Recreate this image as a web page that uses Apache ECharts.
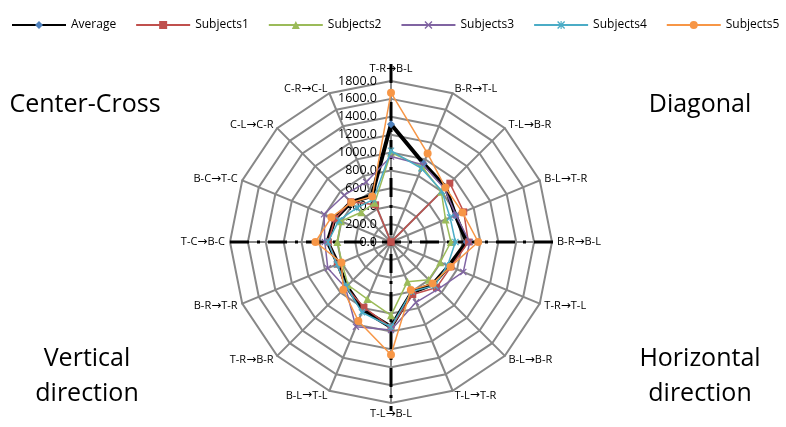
<!DOCTYPE html>
<html><head><meta charset="utf-8">
<script src="https://cdn.jsdelivr.net/npm/echarts@6/dist/echarts.min.js"></script>
<style>html,body{margin:0;padding:0;background:#fff}#c{width:786px;height:427px}</style>
</head><body><div id="c"></div>
<script>
// Categories in clockwise order starting from the top
const categories = ['T-R→B-L','B-R→T-L','T-L→B-R','B-L→T-R','B-R→B-L','T-R→T-L','B-L→B-R','T-L→T-R',
                    'T-L→B-L','B-L→T-L','T-R→B-R','B-R→T-R','T-C→B-C','B-C→T-C','C-L→C-R','C-R→C-L'];
const seriesNames = ['Average','Subjects1','Subjects2','Subjects3','Subjects4','Subjects5'];
const average   = [1316, 950, 865, 780, 846, 700, 665, 610, 950, 820, 700, 640, 710, 680, 630, 560];
const subjects1 = [   0,   0, 930, 880, 865, 725, 720, 636, 955, 790, 715, 650, 700, 680, 635, 450];
const subjects2 = [1000, 910, 795, 660, 670, 595, 596, 480, 820, 690, 680, 595, 600, 605, 470, 475];
const subjects3 = [ 955, 935, 845, 785, 880, 875, 745, 730, 985,1025, 720, 765, 740, 810, 740, 725];
const subjects4 = [1020, 890, 805, 715, 720, 685, 690, 600, 950, 850, 705, 655, 705, 630, 540, 515];
const subjects5 = [1670,1070, 860, 865, 975, 720, 658, 580,1260, 955, 755, 600, 845, 722, 625, 550];
const axisMax = 1800;
const axisSplits = 9;
const quadrantLabels = ['Center-Cross', 'Diagonal', 'Vertical\ndirection', 'Horizontal\ndirection'];

const CX = 391, CY = 242, R = 161;
const FONT = 'Open Sans';

// ECharts radar places indicators counter-clockwise; reorder for a clockwise layout
const order = [0].concat(categories.map((_, i) => i).slice(1).reverse());
const reorder = arr => order.map(i => arr[i]);

const xPath = 'path://M0,1.2L1.2,0L5,3.8L8.8,0L10,1.2L6.2,5L10,8.8L8.8,10L5,6.2L1.2,10L0,8.8L3.8,5Z';
const starPath = 'path://M0,1.2L1.2,0L5,3.8L8.8,0L10,1.2L6.2,5L10,8.8L8.8,10L5,6.2L1.2,10L0,8.8L3.8,5Z M4.3,0H5.7V10H4.3Z';

const styles = [
  {color:'#4F81BD', line:'#000000', width:4,   symbol:'diamond',  size:8},
  {color:'#C0504D', line:'#C0504D', width:1.5, symbol:'rect',     size:7},
  {color:'#9BBB59', line:'#9BBB59', width:1.5, symbol:'triangle', size:8},
  {color:'#8064A2', line:'#8064A2', width:1.5, symbol:xPath,      size:7},
  {color:'#4BACC6', line:'#4BACC6', width:1.5, symbol:starPath,   size:7},
  {color:'#F79646', line:'#F79646', width:1.5, symbol:'circle',   size:8}
];
const values = [average, subjects1, subjects2, subjects3, subjects4, subjects5];

const indicators = order.map((i, k) => {
  const ind = {name: categories[i], min: 0, max: axisMax};
  if (k === 0) ind.axisLabel = {show: true};
  return ind;
});

const legendSeries = seriesNames.map((n, i) => ({
  type: 'line', name: n, data: [], xAxisIndex: 0, yAxisIndex: 0,
  symbol: styles[i].symbol, symbolSize: styles[i].size,
  itemStyle: {color: styles[i].color},
  lineStyle: {color: styles[i].line, width: styles[i].width}
}));

const radarSeries = seriesNames.map((n, i) => ({
  type: 'radar', name: n, radarIndex: 0, z: 3 + i,
  symbol: styles[i].symbol, symbolSize: styles[i].size,
  itemStyle: {color: styles[i].color},
  lineStyle: {color: styles[i].line, width: styles[i].width},
  data: [{name: n, value: reorder(values[i])}]
}));

const dashStyle = {stroke: '#000', lineWidth: 3, lineDash: [19, 8, 3, 8]};
const bigText = (txt, x, y) => ({
  type: 'text', x: x, y: y, z: 5,
  style: {text: txt, fill: '#000', font: '25px "' + FONT + '"', align: 'center', verticalAlign: 'middle', lineHeight: 35}
});

const option = {
  animation: false,
  backgroundColor: '#fff',
  textStyle: {fontFamily: FONT},
  legend: {
    left: 6, top: 14, itemWidth: 54, itemHeight: 10, itemGap: 19,
    textStyle: {fontSize: 12, color: '#000', fontFamily: FONT},
    data: seriesNames
  },
  grid: {left: 0, top: 0, width: 1, height: 1, show: false},
  xAxis: {type: 'category', show: false, data: []},
  yAxis: {type: 'value', show: false},
  radar: {
    center: [CX, CY], radius: R, startAngle: 90, shape: 'polygon',
    splitNumber: axisSplits, indicator: indicators,
    nameGap: 5,
    axisName: {
      color: '#000', fontSize: 11, fontFamily: FONT,
      formatter: name => name.replace('→', '{a|→}'),
      rich: {a: {fontFamily: 'DejaVu Sans', fontSize: 12, color: '#000'}}
    },
    axisLine: {lineStyle: {color: '#888', width: 2}},
    splitLine: {lineStyle: {color: '#888', width: 2}},
    splitArea: {show: false},
    axisTick: {show: false},
    axisLabel: {show: false, color: '#000', fontSize: 12.5, fontFamily: FONT, margin: 14,
                formatter: v => Number(v).toFixed(1)}
  },
  graphic: [
    {type: 'line', z: 1, shape: {x1: CX - R, y1: CY, x2: CX + R + 8, y2: CY}, style: dashStyle},
    {type: 'line', z: 1, shape: {x1: CX, y1: CY - R - 17, x2: CX, y2: CY + R + 8}, style: dashStyle},
    bigText(quadrantLabels[0], 85, 105),
    bigText(quadrantLabels[1], 700, 105),
    bigText(quadrantLabels[2], 87, 376),
    bigText(quadrantLabels[3], 700, 376)
  ],
  series: legendSeries.concat(radarSeries)
};

const chart = echarts.init(document.getElementById('c'), null, {renderer: 'canvas'});
chart.setOption(option);
</script>
</body></html>
